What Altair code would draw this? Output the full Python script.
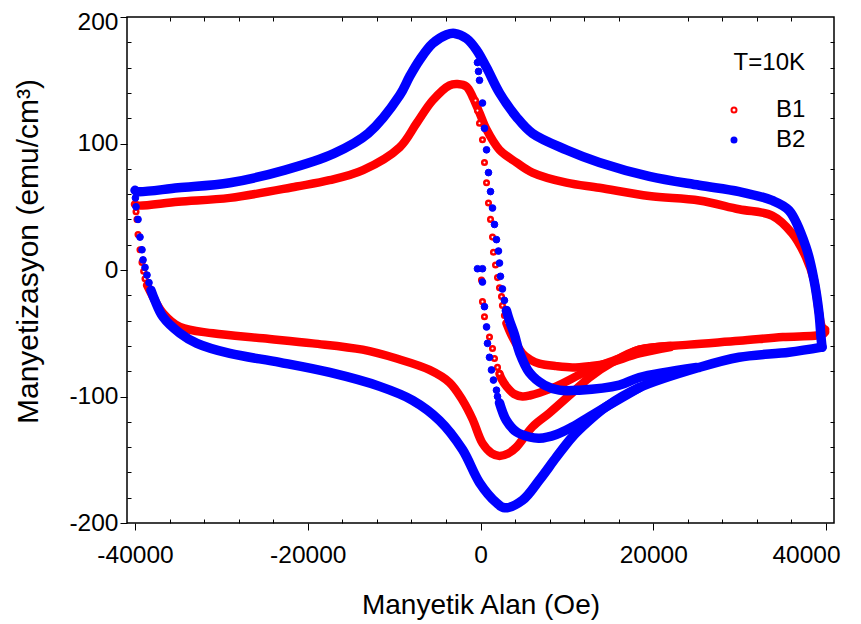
import altair as alt
import pandas as pd

# ---------------- data ----------------
X_TITLE = "Manyetik Alan (Oe)"
Y_TITLE = "Manyetizasyon (emu/cm³)"
LEGEND_TITLE = "T=10K"
SERIES = ["B1", "B2"]

X_MAJOR = [-40000, -20000, 0, 20000, 40000]
X_MINOR = [-36000, -32000, -28000, -24000, -16000, -12000, -8000, -4000,
           4000, 8000, 12000, 16000, 24000, 28000, 32000, 36000]
Y_MAJOR = [-200, -100, 0, 100, 200]
Y_MINOR = [-180, -160, -140, -120, -80, -60, -40, -20,
           20, 40, 60, 80, 120, 140, 160, 180]

# B1 (red, open circles)
b1_upper_x = [-40000, -39770, -35000, -29000, -21300, -17500, -13600, -9360, -7400, -5550,
              -3580, -2660, -1620, -920, -100, 700, 2200, 4160, 6010, 9940, 13760, 19540,
              25320, 29940, 33760, 36070, 37690, 38610, 39190, 39540, 39900]
b1_upper_y = [52, 51, 54, 57, 66, 71, 79, 97, 116, 134,
              146, 147, 145, 137, 124, 111, 95, 85, 77, 69, 65, 58.5,
              55, 48, 43, 29, 10, -8, -34, -45, -47]
b1_lower_x = [-38600, -37930, -36770, -34800, -30990, -25200, -19420, -13640, -9710, -5900,
              -3580, -2080, -920, 230, 1300, 2200, 3200, 4160, 6010, 7980, 10630, 12600,
              15260, 18380, 24160, 29940, 35000, 39540, 39900]
b1_lower_y = [-12, -21, -34, -45, -50, -54, -58, -63, -70, -79,
              -89, -103, -118, -137, -145, -147, -145, -140, -124, -113, -97, -85,
              -73, -63, -59, -56, -53, -51, -49]
b1_virgin_x = [2200, 2430, 3000, 3900, 4860, 5800, 6820, 8780, 12600, 16410, 18380, 22000]
b1_virgin_y = [-82, -86, -92, -98, -100, -99, -97, -92, -79, -69, -63, -60]
b1_minor_x = [3000, 3700, 4860, 5800, 6820, 8780, 10630, 12600, 14570, 18380, 22000]
b1_minor_y = [-42, -53, -66, -71, -74, -76, -77, -76, -74, -66, -61]
b1_dots_x = [-39880, -39770, -39650, -39420, -39190, -39000, -38840,
             115, 230, 460, 1040, 1390, 1620, 1970, 2200,
             -580, -350, -115, 230, 460, 700, 925, 1160, 1390, 1500, 1740, 1970, 2200,
             2430, 2540, 2770, 3000]
b1_dots_y = [46, 40, 28, 16, 6, -1, -7,
             -8, -25, -37, -53, -62, -70, -77, -82,
             134, 126, 116, 103, 85, 69, 53, 40, 26, 14, 4, -6, -14,
             -21, -28, -36, -42]

# B2 (blue, filled circles)
b2_upper_x = [-40000, -39770, -35000, -29000, -22650, -17000, -13000, -9360, -8200, -7050,
              -5550, -3930, -3000, -1620, -460, 700, 2200, 4160, 6010, 9940, 13760, 19540,
              25320, 29940, 33760, 35720, 37690, 38610, 39190, 39420, 39540]
b2_upper_y = [63, 62, 65, 69, 79, 92, 108, 138, 153, 166,
              179, 186, 187, 183, 174, 160, 140, 121, 108, 95, 85, 74,
              67, 62, 55, 47, 18, -8, -34, -53, -61]
b2_lower_x = [-38150, -37700, -36770, -34800, -32830, -29020, -23240, -17460, -11680, -7860,
              -4740, -2080, -120, 1850, 2800, 4860, 6820, 8780, 10630, 12600, 14570, 18380,
              25320, 29940, 35720, 39540]
b2_lower_y = [-16, -24, -37, -50, -58, -66, -73, -81, -92, -103,
              -119, -142, -168, -184, -188, -182, -166, -148, -132, -119, -108, -93,
              -77, -69, -65, -61]
b2_virgin_x = [2200, 3000, 4160, 5660, 6820, 8780, 10630, 12600, 14570, 18380]
b2_virgin_y = [-105, -119, -128, -132, -133, -130, -124, -116, -108, -93]
b2_minor_x = [3000, 3350, 3930, 4510, 5660, 7400, 9130, 11440, 16070, 18380, 25000]
b2_minor_y = [-32, -40, -51, -65, -81, -91, -95, -95, -91, -85, -77]
b2_dots_x = [-39950, -39880, -39650, -39420, -39190, -39070, -38840, -38610, -38380, -38150,
             -350, 230, 230, 460, 700, 810, 1040, 1270, 1500, 1850, 1970, 2200,
             -350, -230, -115, 230, 460, 700, 925, 1160, 1390, 1620, 1850, 2080, 2200,
             2310, 2540, 2770, 3000]
b2_dots_y = [57, 50, 40, 26, 16, 8, 2, -4, -10, -16,
             1, 1, -9.5, -29, -45, -58, -69, -79, -87, -95, -100, -105,
             164, 157, 150, 132, 112, 95, 77, 62, 49, 36, 24, 15, 5.5,
             -5, -15, -24, -32]


def lines_table(series, parts):
    rows = []
    for seg, (xs, ys) in parts.items():
        for i, (x, y) in enumerate(zip(xs, ys)):
            rows.append({"series": series, "seg": seg, "i": i, "H": x, "M": y})
    return pd.DataFrame(rows)


def dots_table(series, xs, ys):
    return pd.DataFrame({"series": series, "H": xs, "M": ys})


b1_lines = lines_table("B1", {"upper": (b1_upper_x, b1_upper_y),
                              "lower": (b1_lower_x, b1_lower_y),
                              "virgin": (b1_virgin_x, b1_virgin_y),
                              "minor": (b1_minor_x, b1_minor_y)})
b2_lines = lines_table("B2", {"upper": (b2_upper_x, b2_upper_y),
                              "lower": (b2_lower_x, b2_lower_y),
                              "virgin": (b2_virgin_x, b2_virgin_y),
                              "minor": (b2_minor_x, b2_minor_y)})
b1_dots = dots_table("B1", b1_dots_x, b1_dots_y)
b2_dots = dots_table("B2", b2_dots_x, b2_dots_y)

# ---------------- styling ----------------
FONT = "Liberation Sans"
RED = "#ff0000"
BLUE = "#0000ff"
W, H = 707, 506

xscale = alt.Scale(domain=[-40926, 40926], nice=False, zero=False)
yscale = alt.Scale(domain=[-200, 200], nice=False, zero=False)

x_major = alt.Axis(orient="bottom", values=X_MAJOR, tickSize=7, tickWidth=1, tickColor="black",
                   domain=False, grid=False, labelFont=FONT, labelFontSize=24.5,
                   labelColor="black", labelPadding=13, labelFlush=False, labelOverlap=False,
                   labelOffset={"condition": {"test": "datum.value == 40000", "value": -20},
                                "value": 0},
                   labelExpr="'' + datum.value", title=X_TITLE, titleFont=FONT,
                   titleFontSize=28, titleFontWeight="normal", titleColor="black",
                   titleX=W / 2, titleY=82, titleBaseline="middle")
y_major = alt.Axis(orient="left", values=Y_MAJOR, tickSize=7, tickWidth=1, tickColor="black",
                   domain=False, grid=False, labelFont=FONT, labelFontSize=24.5,
                   labelColor="black", labelPadding=2, labelFlush=False, labelOverlap=False,
                   labelOffset={"condition": {"test": "datum.value == 200", "value": 5},
                                "value": 0},
                   labelExpr="'' + datum.value", title=Y_TITLE, titleFont=FONT,
                   titleFontSize=30, titleFontWeight="normal", titleColor="black",
                   titleX=-99, titleY=234, titleBaseline="middle")


def minor_axis(orient, values):
    return alt.Axis(orient=orient, values=values, tickSize=4, tickWidth=1, tickColor="black",
                    offset=-4, domain=False, grid=False, labels=False, title=None)


leg = alt.Legend(title=LEGEND_TITLE, orient="none", legendX=595, legendY=34,
                 direction="vertical", titleFont=FONT, titleFontSize=24,
                 titleFontWeight="normal", titleColor="black", titlePadding=23,
                 titleAnchor="end", labelFont=FONT, labelFontSize=24, labelColor="black",
                 labelOffset=30, symbolType="circle", symbolSize=25, symbolStrokeWidth=2,
                 rowPadding=6)

stroke_enc = alt.Stroke("series:N", scale=alt.Scale(domain=SERIES, range=[RED, BLUE]), legend=leg)
fill_enc = alt.Fill("series:N", scale=alt.Scale(domain=SERIES, range=["white", BLUE]), legend=leg)

red_lines = alt.Chart(b1_lines).mark_line(
    strokeWidth=8.5, strokeCap="round", strokeJoin="round", interpolate="catmull-rom"
).encode(
    x=alt.X("H:Q", scale=xscale, axis=x_major),
    y=alt.Y("M:Q", scale=yscale, axis=y_major),
    detail="seg:N", order=alt.Order("i:Q"), stroke=alt.value(RED)
)

red_points = alt.Chart(b1_dots).mark_point(
    shape="circle", size=21, strokeWidth=2.5, filled=True, opacity=1
).encode(
    x=alt.X("H:Q", scale=xscale, axis=minor_axis("bottom", X_MINOR)),
    y=alt.Y("M:Q", scale=yscale, axis=minor_axis("left", Y_MINOR)),
    stroke=stroke_enc, fill=fill_enc
)

blue_lines = alt.Chart(b2_lines).mark_line(
    strokeWidth=9.5, strokeCap="round", strokeJoin="round", interpolate="catmull-rom"
).encode(
    x=alt.X("H:Q", scale=xscale, axis=minor_axis("top", X_MINOR)),
    y=alt.Y("M:Q", scale=yscale, axis=minor_axis("right", Y_MINOR)),
    detail="seg:N", order=alt.Order("i:Q"), stroke=alt.value(BLUE)
)

blue_points = alt.Chart(b2_dots).mark_point(
    shape="circle", size=45, strokeWidth=1, filled=True, opacity=1
).encode(
    x=alt.X("H:Q", scale=xscale, axis=None),
    y=alt.Y("M:Q", scale=yscale, axis=None),
    stroke=stroke_enc, fill=fill_enc
)

chart = alt.layer(red_lines, red_points, blue_lines, blue_points).resolve_axis(
    x="independent", y="independent"
).properties(
    width=W, height=H,
    autosize=alt.AutoSizeParams(type="none"),
    padding={"left": 119, "top": 9, "right": 19, "bottom": 99},
    background="white"
).configure_view(stroke="black", strokeWidth=1.5)

chart.save("out.html", embed_options={"renderer": "svg", "actions": False})
